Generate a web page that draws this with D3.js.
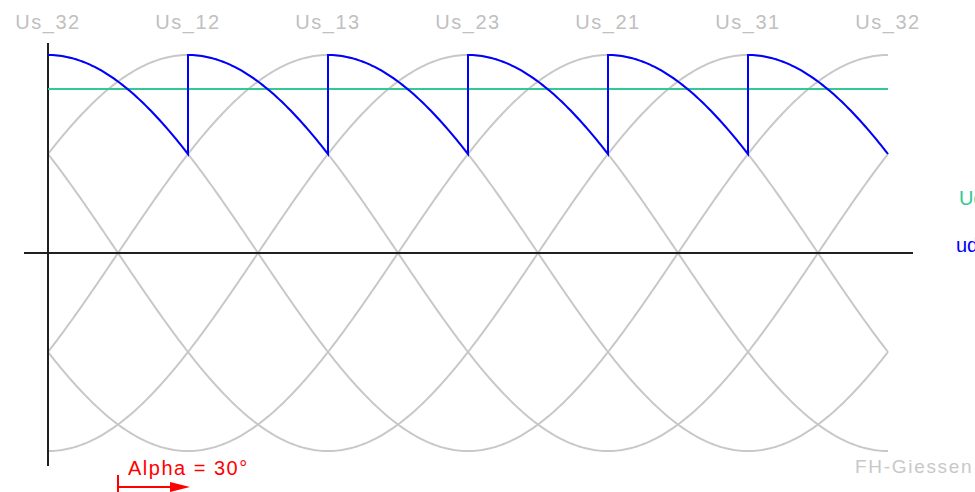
<!DOCTYPE html>
<html>
<head>
<meta charset="utf-8">
<script src="https://cdn.jsdelivr.net/npm/d3@7"></script>
<style>
  html, body { margin: 0; padding: 0; background: #fff; }
  svg { display: block; }
</style>
</head>
<body>
<svg id="chart" width="975" height="492"></svg>
<script>
// ---- data ----
const phaseLabels = ["Us_32", "Us_12", "Us_13", "Us_23", "Us_21", "Us_31", "Us_32"];
const phaseAngles = [0, 60, 120, 180, 240, 300, 360];   // peak positions (deg)
const curvePhases = [0, 60, 120, 180, 240, 300];        // line-to-line voltages
const alphaDeg = 30;                                     // firing angle
const angleDomain = [0, 360];
const valueDomain = [-1, 1];
const legendLabels = ["Ud", "ud"];
const alphaLabel = "Alpha = 30°";
const creditLabel = "FH-Giessen";

// ---- layout ----
const svg = d3.select("#chart");
const x = d3.scaleLinear().domain(angleDomain).range([48, 888]);
const y = d3.scaleLinear().domain(valueDomain).range([451, 55]);
const rad = d => d * Math.PI / 180;
const step = 1;

// gray sinusoids
const line = d3.line().x(d => x(d[0])).y(d => y(d[1]));
curvePhases.forEach(p => {
  const pts = d3.range(angleDomain[0], angleDomain[1] + step, step)
    .map(t => [t, Math.cos(rad(t - p))]);
  svg.append("path").attr("d", line(pts))
    .attr("fill", "none").attr("stroke", "#c8c8c8").attr("stroke-width", 2);
});

// axes
svg.append("line").attr("x1", 24).attr("x2", 913).attr("y1", y(0)).attr("y2", y(0))
  .attr("stroke", "#202020").attr("stroke-width", 2).attr("shape-rendering", "crispEdges");
svg.append("line").attr("x1", x(0)).attr("x2", x(0)).attr("y1", 43).attr("y2", 466)
  .attr("stroke", "#202020").attr("stroke-width", 2).attr("shape-rendering", "crispEdges");

// green mean value Ud
const Ud = 3 / Math.PI * Math.cos(rad(alphaDeg));
svg.append("line").attr("x1", x(0)).attr("x2", x(360)).attr("y1", y(Ud)).attr("y2", y(Ud))
  .attr("stroke", "#33c896").attr("stroke-width", 2).attr("shape-rendering", "crispEdges");

// blue output voltage ud
const udPts = [];
curvePhases.forEach(p => {
  const t0 = Math.max(angleDomain[0], p - 30 + alphaDeg);
  const t1 = Math.min(angleDomain[1], p + 30 + alphaDeg);
  for (let t = t0; t <= t1 + 1e-9; t += step) udPts.push([t, Math.cos(rad(t - p))]);
});
svg.append("path").attr("d", line(udPts))
  .attr("fill", "none").attr("stroke", "#0000ff").attr("stroke-width", 2);

// top labels
svg.selectAll("text.ph").data(phaseLabels).join("text")
  .attr("class", "ph")
  .attr("x", (d, i) => x(phaseAngles[i]))
  .attr("y", 29)
  .attr("text-anchor", "middle")
  .attr("font-family", "Liberation Sans, Arial, sans-serif")
  .attr("font-size", 20)
  .attr("letter-spacing", 1.5)
  .attr("fill", "#c0c0c0")
  .text(d => d);

// right labels
svg.append("text").attr("x", 959).attr("y", 205)
  .attr("font-family", "Liberation Sans, Arial, sans-serif").attr("font-size", 20)
  .attr("fill", "#33c896").text(legendLabels[0]);
svg.append("text").attr("x", 956).attr("y", 252)
  .attr("font-family", "Liberation Sans, Arial, sans-serif").attr("font-size", 20)
  .attr("fill", "#0000ff").text(legendLabels[1]);

// alpha annotation
const xa0 = x(30), xa1 = x(30 + alphaDeg);
svg.append("text").attr("x", 128).attr("y", 475)
  .attr("font-family", "Liberation Sans, Arial, sans-serif").attr("font-size", 20)
  .attr("letter-spacing", 1.5)
  .attr("fill", "#ff0000").text(alphaLabel);
svg.append("line").attr("x1", xa0).attr("x2", xa0).attr("y1", 475).attr("y2", 492)
  .attr("stroke", "#ff0000").attr("stroke-width", 2).attr("shape-rendering", "crispEdges");
svg.append("line").attr("x1", xa0).attr("x2", xa1 - 10).attr("y1", 487).attr("y2", 487)
  .attr("stroke", "#ff0000").attr("stroke-width", 2).attr("shape-rendering", "crispEdges");
svg.append("path")
  .attr("d", `M${xa1 + 2},487 L${xa1 - 18},482 L${xa1 - 18},492 Z`)
  .attr("fill", "#ff0000");

// credit
svg.append("text").attr("x", 855).attr("y", 473)
  .attr("font-family", "Liberation Sans, Arial, sans-serif").attr("font-size", 19)
  .attr("letter-spacing", 1.7)
  .attr("fill", "#c8c8c8").text(creditLabel);
</script>
</body>
</html>
